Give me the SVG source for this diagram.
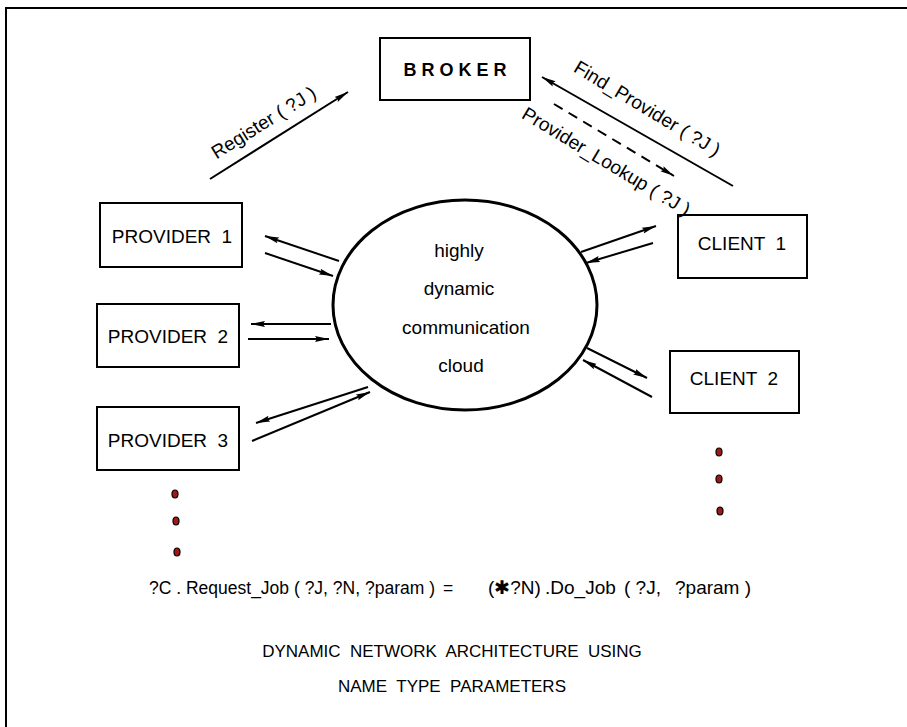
<svg xmlns="http://www.w3.org/2000/svg" width="907" height="727" viewBox="0 0 907 727">
<defs>
<marker id="ah" markerUnits="userSpaceOnUse" markerWidth="15" markerHeight="8" refX="14" refY="4" orient="auto">
<path d="M0,1 L14,4 L0,7 L2,4 z" fill="#000"/>
</marker>
<style>
text{font-family:"Liberation Sans",Arial,sans-serif;fill:#000;white-space:pre}
.lbl{font-size:19px}
.sm{font-size:17px}
.fm{font-size:17.5px}
.fm2{font-size:19px}
.box{fill:#fff;stroke:#000;stroke-width:2}
.con{stroke:#000;stroke-width:2;fill:none;marker-end:url(#ah)}
.dot{fill:#a01818;stroke:#000;stroke-width:1.2}
</style>
</defs>
<rect x="0" y="0" width="907" height="727" fill="#fff"/>
<rect x="6" y="8" width="920" height="740" fill="none" stroke="#000" stroke-width="2"/>

<g id="broker">
<rect class="box" x="380" y="38" width="150" height="62" stroke-width="3"/>
<text x="455" y="76" text-anchor="middle" font-size="18" font-weight="bold">B R O K E R</text>
</g>
<g id="cloud">
<ellipse cx="465" cy="305" rx="132" ry="105" fill="#fff" stroke="#000" stroke-width="3"/>
<text class="lbl" x="459" y="257" text-anchor="middle">highly</text>
<text class="lbl" x="459" y="295" text-anchor="middle">dynamic</text>
<text class="lbl" x="466" y="334" text-anchor="middle">communication</text>
<text class="lbl" x="461" y="372" text-anchor="middle">cloud</text>
</g>
<g id="provider1">
<rect class="box" x="100" y="203" width="142" height="64"/>
<text class="lbl" x="172" y="243" text-anchor="middle">PROVIDER  1</text>
</g>
<g id="provider2">
<rect class="box" x="97" y="304" width="142" height="63"/>
<text class="lbl" x="168" y="343" text-anchor="middle">PROVIDER  2</text>
</g>
<g id="provider3">
<rect class="box" x="97" y="407" width="142" height="63"/>
<text class="lbl" x="168" y="447" text-anchor="middle">PROVIDER  3</text>
</g>
<g id="client1">
<rect class="box" x="678" y="215" width="129" height="63"/>
<text class="lbl" x="742" y="250" text-anchor="middle">CLIENT  1</text>
</g>
<g id="client2">
<rect class="box" x="670" y="351" width="129" height="62"/>
<text class="lbl" x="734" y="385" text-anchor="middle">CLIENT  2</text>
</g>
<g id="provider-dots">
<ellipse class="dot" cx="175" cy="494" rx="3" ry="4"/>
<ellipse class="dot" cx="176" cy="521" rx="3" ry="4"/>
<ellipse class="dot" cx="177" cy="552" rx="3" ry="4"/>
</g>
<g id="client-dots">
<ellipse class="dot" cx="719" cy="452" rx="3" ry="4"/>
<ellipse class="dot" cx="719" cy="479" rx="3" ry="4"/>
<ellipse class="dot" cx="720" cy="511" rx="3" ry="4"/>
</g>

<g id="connectors">
<line class="con" x1="339" y1="261" x2="265" y2="236"/>
<line class="con" x1="265" y1="253" x2="333" y2="276"/>
<line class="con" x1="331" y1="324" x2="251" y2="324"/>
<line class="con" x1="248" y1="339" x2="329" y2="339"/>
<line class="con" x1="368" y1="387" x2="256" y2="423"/>
<line class="con" x1="252" y1="441" x2="370" y2="392"/>
<line class="con" x1="581" y1="252" x2="656" y2="226"/>
<line class="con" x1="653" y1="243" x2="586" y2="263"/>
<line class="con" x1="587" y1="348" x2="647" y2="378"/>
<line class="con" x1="652" y1="397" x2="583" y2="360"/>
<line class="con" x1="210" y1="179" x2="348" y2="92"/>
<line class="con" x1="733" y1="186" x2="542" y2="77"/>
<line class="con" x1="554" y1="104" x2="674" y2="176" stroke-width="3" stroke-dasharray="10,7"/>
<text class="lbl" transform="translate(267,128) rotate(-32)" text-anchor="middle">Register ( ?J )</text>
<text class="lbl" transform="translate(644,114) rotate(31)" text-anchor="middle">Find_Provider ( ?J )</text>
<text class="lbl" transform="translate(603,167) rotate(31)" text-anchor="middle">Provider_Lookup ( ?J )</text>
</g>

<text y="594"><tspan class="fm" x="149">?C . Request_Job ( ?J, ?N, ?param )</tspan><tspan class="fm" x="443">=</tspan><tspan class="fm2" x="488">(<tspan font-family="DejaVu Sans" font-weight="bold">✱</tspan>?N)</tspan><tspan class="fm2" x="545">.Do_Job</tspan><tspan class="fm2" x="624">( ?J,</tspan><tspan class="fm2" x="675">?param )</tspan></text>
<text class="sm" x="452" y="657" text-anchor="middle">DYNAMIC  NETWORK  ARCHITECTURE  USING</text>
<text class="sm" x="452" y="692" text-anchor="middle">NAME  TYPE  PARAMETERS</text>
</svg>
